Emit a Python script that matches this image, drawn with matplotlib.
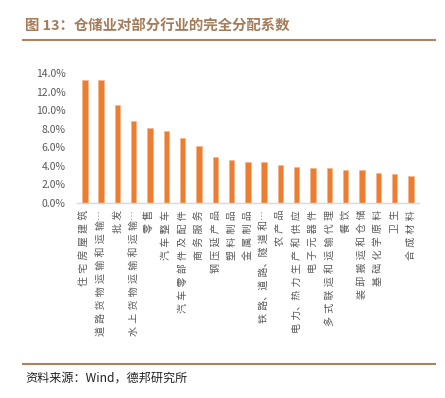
import matplotlib
matplotlib.use("Agg")
import matplotlib.pyplot as plt
from matplotlib.ticker import FuncFormatter
from matplotlib.lines import Line2D

plt.rcParams['font.family'] = ['Noto Sans CJK SC', 'DejaVu Sans']

categories = [
    "住宅房屋建筑", "道路货物运输和运输…", "批发", "水上货物运输和运输…", "零售",
    "汽车整车", "汽车零部件及配件", "商务服务", "钢压延产品", "塑料制品",
    "金属制品", "铁路、道路、隧道和…", "农产品", "电力、热力生产和供应", "电子元器件",
    "多式联运和运输代理", "餐饮", "装卸搬运和仓储", "基础化学原料", "卫生", "合成材料",
]
values = [13.3, 13.25, 10.58, 8.79, 8.04, 7.78, 6.96, 6.13, 4.98, 4.66,
          4.45, 4.41, 4.09, 3.91, 3.77, 3.73, 3.59, 3.55, 3.19, 3.09, 2.91]
yticks = [0, 2, 4, 6, 8, 10, 12, 14]

title = "图 13：仓储业对部分行业的完全分配系数"
source = "资料来源：Wind，德邦研究所"

W, H = 445, 398
LABEL_FS = 7.2
fig = plt.figure(figsize=(W / 100, H / 100), dpi=100)
ax = fig.add_axes([76.7 / W, 1 - 203 / H, (419 - 76.7) / W, (203 - 73) / H])


def spaced(label, sep):
    out = ""
    for i, ch in enumerate(label):
        out += ch
        if i < len(label) - 1 and ch not in "、…" and label[i + 1] not in "、…":
            out += sep
    return out


# pick a separator so that a 6-character label is about 77 px long (as in the reference)
renderer = fig.canvas.get_renderer()
best_sep, best_err = " ", 1e9
for sep in ["", "\u200a", "\u2009", " ", "\u2005", "\u2004", "\u2002", "  ", "\u2003"]:
    t = fig.text(0, 0, sep.join(categories[0]), fontsize=LABEL_FS)
    w = t.get_window_extent(renderer).width
    t.remove()
    err = abs(w - 77)
    if err < best_err:
        best_sep, best_err = sep, err

x = list(range(len(categories)))
ax.bar(x, values, width=0.33, color="#ED7D31", edgecolor="#F4B183", linewidth=0.4)
ax.set_xlim(-0.5, len(categories) - 0.5)
ax.set_ylim(0, 14)
ax.set_yticks(yticks)
ax.yaxis.set_major_formatter(FuncFormatter(lambda v, p: f"{v:.1f}%"))
ax.set_xticks(x)
ax.set_xticklabels([spaced(c, best_sep) for c in categories], rotation=90, fontsize=LABEL_FS,
                   color="#595959", va="top", ha="center")
ax.tick_params(axis="x", length=0, pad=5)
ax.tick_params(axis="y", length=0, pad=8, labelsize=7.5, labelcolor="#595959")
for s in ["top", "right", "left"]:
    ax.spines[s].set_visible(False)
ax.spines["bottom"].set_color("#D9D9D9")
ax.spines["bottom"].set_linewidth(1.0)

brown = "#A98463"
fig.text(25 / W, 1 - 27 / H, title, fontsize=10.4, fontweight="bold", color="#A47C5A",
         ha="left", va="center")
fig.add_artist(Line2D([23 / W, 435 / W], [1 - 40 / H, 1 - 40 / H], color=brown, lw=1.5))
fig.add_artist(Line2D([23 / W, 435 / W], [1 - 364 / H, 1 - 364 / H], color=brown, lw=1.5))
fig.text(25 / W, 1 - 378 / H, source, fontsize=8.7, color="#222222", ha="left", va="center")

fig.savefig("out.png", dpi=100)
